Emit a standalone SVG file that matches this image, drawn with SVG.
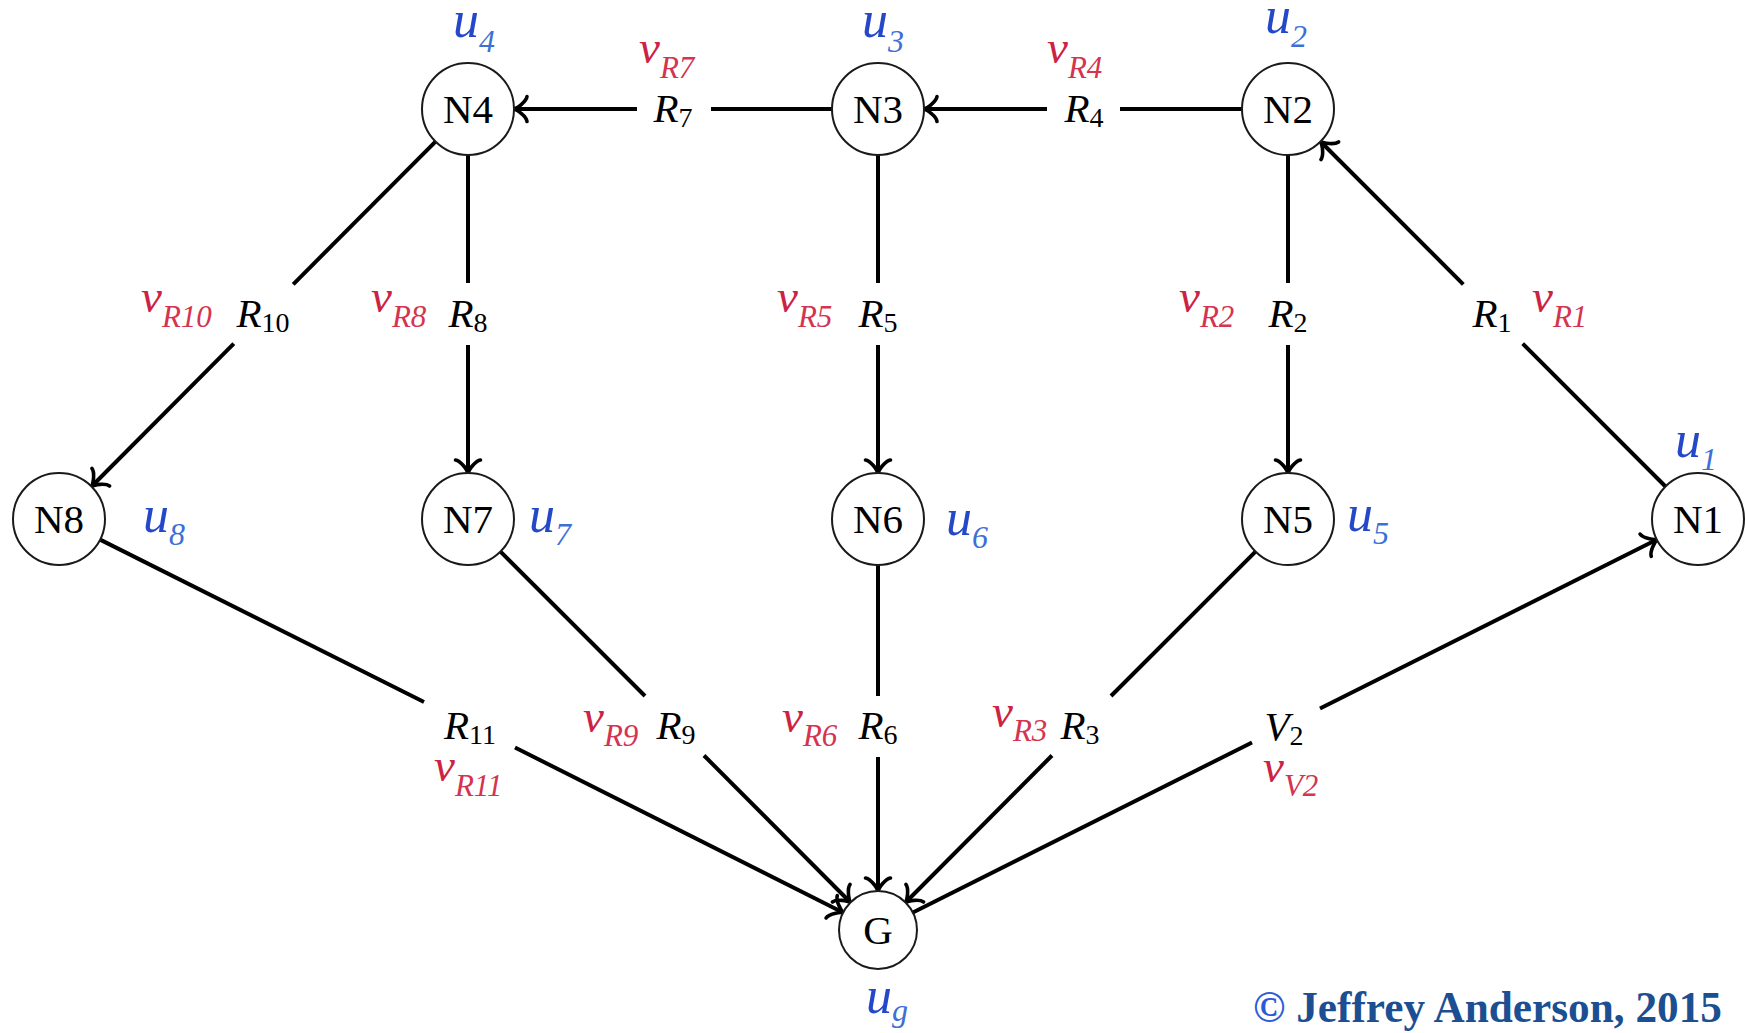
<svg xmlns="http://www.w3.org/2000/svg" width="1745" height="1033" viewBox="0 0 1745 1033">
<defs>
<marker id="arr" markerUnits="userSpaceOnUse" markerWidth="30" markerHeight="30" viewBox="-16 -15 20 30" refX="0" refY="0" orient="auto" overflow="visible">
<path d="M -11 12.5 C -10.3 7.5 -1.5 0.8 2.5 0 C -1.5 -0.8 -10.3 -7.5 -11 -12.5" fill="none" stroke="#000" stroke-width="3.6" stroke-linecap="round" stroke-linejoin="round"/>
</marker>
<style>
.node circle{fill:#fff;stroke:#1a1a1a;stroke-width:2}
.nl{font-family:"Liberation Serif","DejaVu Serif",serif;font-size:41px;fill:#000;text-anchor:middle}
.e line{stroke:#000;stroke-width:4;fill:none}
.a{marker-end:url(#arr)}
.r{font-family:"Liberation Serif","DejaVu Serif",serif;font-size:41px;fill:#000;text-anchor:middle}
.r .i{font-style:italic}
.r .s{font-size:28px}
.v{font-family:"Liberation Serif","DejaVu Serif",serif;font-style:italic;font-size:47px;fill:#cc2244}
.v .s{font-size:31px;fill:#d4344f}
.u{font-family:"Liberation Serif","DejaVu Serif",serif;font-style:italic;font-size:52px;fill:#2448c8}
.u .s{font-size:32px;fill:#3d6fd8}
.cp{font-family:"Liberation Serif","Times New Roman",serif;font-weight:bold;font-size:44px;fill:#1c4e92}
</style>
</defs>
<rect width="1745" height="1033" fill="#fff"/>

<g id="connectors">
<g class="e" id="e-N3-N4">
<line x1="832" y1="109" x2="711" y2="109"/>
<line class="a" x1="637" y1="109" x2="516" y2="109"/>
<text class="r" x="673" y="122"><tspan class="i">R</tspan><tspan class="s" dy="5">7</tspan></text>
<text class="v" x="639" y="63">v<tspan class="s" dy="15">R7</tspan></text>
</g>
<g class="e" id="e-N2-N3">
<line x1="1242" y1="109" x2="1120" y2="109"/>
<line class="a" x1="1047" y1="109" x2="926" y2="109"/>
<text class="r" x="1084" y="122"><tspan class="i">R</tspan><tspan class="s" dy="5">4</tspan></text>
<text class="v" x="1047" y="63">v<tspan class="s" dy="15">R4</tspan></text>
</g>
<g class="e" id="e-N4-N8">
<line x1="435.5" y1="141.6" x2="293.2" y2="284.3"/>
<line class="a" x1="233.8" y1="343.7" x2="93" y2="485"/>
<text class="r" x="263" y="327"><tspan class="i">R</tspan><tspan class="s" dy="5">10</tspan></text>
<text class="v" x="141" y="312">v<tspan class="s" dy="15">R10</tspan></text>
</g>
<g class="e" id="e-N4-N7">
<line x1="468" y1="155" x2="468" y2="283"/>
<line class="a" x1="468" y1="345" x2="468" y2="471"/>
<text class="r" x="468" y="327"><tspan class="i">R</tspan><tspan class="s" dy="5">8</tspan></text>
<text class="v" x="371" y="312">v<tspan class="s" dy="15">R8</tspan></text>
</g>
<g class="e" id="e-N3-N6">
<line x1="878" y1="155" x2="878" y2="283"/>
<line class="a" x1="878" y1="345" x2="878" y2="471"/>
<text class="r" x="878" y="327"><tspan class="i">R</tspan><tspan class="s" dy="5">5</tspan></text>
<text class="v" x="777" y="312">v<tspan class="s" dy="15">R5</tspan></text>
</g>
<g class="e" id="e-N2-N5">
<line x1="1288" y1="155" x2="1288" y2="283"/>
<line class="a" x1="1288" y1="345" x2="1288" y2="471"/>
<text class="r" x="1288" y="327"><tspan class="i">R</tspan><tspan class="s" dy="5">2</tspan></text>
<text class="v" x="1179" y="312">v<tspan class="s" dy="15">R2</tspan></text>
</g>
<g class="e" id="e-N1-N2">
<line x1="1665.5" y1="486.5" x2="1522.7" y2="343.7"/>
<line class="a" x1="1463.3" y1="284.3" x2="1322" y2="143"/>
<text class="r" x="1492" y="327"><tspan class="i">R</tspan><tspan class="s" dy="5">1</tspan></text>
<text class="v" x="1532" y="312">v<tspan class="s" dy="15">R1</tspan></text>
</g>
<g class="e" id="e-N8-G">
<line x1="100.1" y1="539.6" x2="424" y2="702"/>
<line class="a" x1="515" y1="747.5" x2="841.5" y2="911.7"/>
<text class="r" x="470" y="739"><tspan class="i">R</tspan><tspan class="s" dy="5">11</tspan></text>
<text class="v" x="434" y="781">v<tspan class="s" dy="15">R11</tspan></text>
</g>
<g class="e" id="e-N7-G">
<line x1="500.5" y1="551.6" x2="645" y2="696"/>
<line class="a" x1="704" y1="755.5" x2="849" y2="901"/>
<text class="r" x="676" y="739"><tspan class="i">R</tspan><tspan class="s" dy="5">9</tspan></text>
<text class="v" x="583" y="732">v<tspan class="s" dy="14">R9</tspan></text>
</g>
<g class="e" id="e-N6-G">
<line x1="878" y1="565" x2="878" y2="696"/>
<line class="a" x1="878" y1="757" x2="878" y2="889"/>
<text class="r" x="878" y="739"><tspan class="i">R</tspan><tspan class="s" dy="5">6</tspan></text>
<text class="v" x="782" y="732">v<tspan class="s" dy="14">R6</tspan></text>
</g>
<g class="e" id="e-N5-G">
<line x1="1255.5" y1="551.6" x2="1111" y2="696"/>
<line class="a" x1="1052" y1="755.5" x2="907" y2="901"/>
<text class="r" x="1080" y="739"><tspan class="i">R</tspan><tspan class="s" dy="5">3</tspan></text>
<text class="v" x="992" y="727">v<tspan class="s" dy="14">R3</tspan></text>
</g>
<g class="e" id="e-G-N1">
<line x1="912.9" y1="912.5" x2="1252" y2="742.5"/>
<line class="a" x1="1320" y1="708.5" x2="1655.5" y2="540.3"/>
<text class="r" x="1284" y="740"><tspan class="i">V</tspan><tspan class="s" dy="5">2</tspan></text>
<text class="v" x="1263" y="782">v<tspan class="s" dy="14">V2</tspan></text>
</g>
</g>

<g id="N4" class="node"><circle cx="468" cy="109" r="46"/><text class="nl" x="468" y="123">N4</text><text class="u" x="453" y="37">u<tspan class="s" dy="15">4</tspan></text></g>
<g id="N3" class="node"><circle cx="878" cy="109" r="46"/><text class="nl" x="878" y="123">N3</text><text class="u" x="862" y="37">u<tspan class="s" dy="15">3</tspan></text></g>
<g id="N2" class="node"><circle cx="1288" cy="109" r="46"/><text class="nl" x="1288" y="123">N2</text><text class="u" x="1265" y="33">u<tspan class="s" dy="14">2</tspan></text></g>
<g id="N8" class="node"><circle cx="59" cy="519" r="46"/><text class="nl" x="59" y="533">N8</text><text class="u" x="143" y="532">u<tspan class="s" dy="13">8</tspan></text></g>
<g id="N7" class="node"><circle cx="468" cy="519" r="46"/><text class="nl" x="468" y="533">N7</text><text class="u" x="529" y="532">u<tspan class="s" dy="13">7</tspan></text></g>
<g id="N6" class="node"><circle cx="878" cy="519" r="46"/><text class="nl" x="878" y="533">N6</text><text class="u" x="946" y="535">u<tspan class="s" dy="13">6</tspan></text></g>
<g id="N5" class="node"><circle cx="1288" cy="519" r="46"/><text class="nl" x="1288" y="533">N5</text><text class="u" x="1347" y="531">u<tspan class="s" dy="13">5</tspan></text></g>
<g id="N1" class="node"><circle cx="1698" cy="519" r="46"/><text class="nl" x="1698" y="533">N1</text><text class="u" x="1675" y="457">u<tspan class="s" dy="13">1</tspan></text></g>
<g id="G" class="node"><circle cx="878" cy="930" r="39"/><text class="nl" x="878" y="944">G</text><text class="u" x="866" y="1013">u<tspan class="s" dy="8">g</tspan></text></g>

<text class="cp" x="1722" y="1022" text-anchor="end" textLength="469" lengthAdjust="spacingAndGlyphs"><tspan fill="#2a5ad6">©</tspan> Jeffrey Anderson, 2015</text>
</svg>
